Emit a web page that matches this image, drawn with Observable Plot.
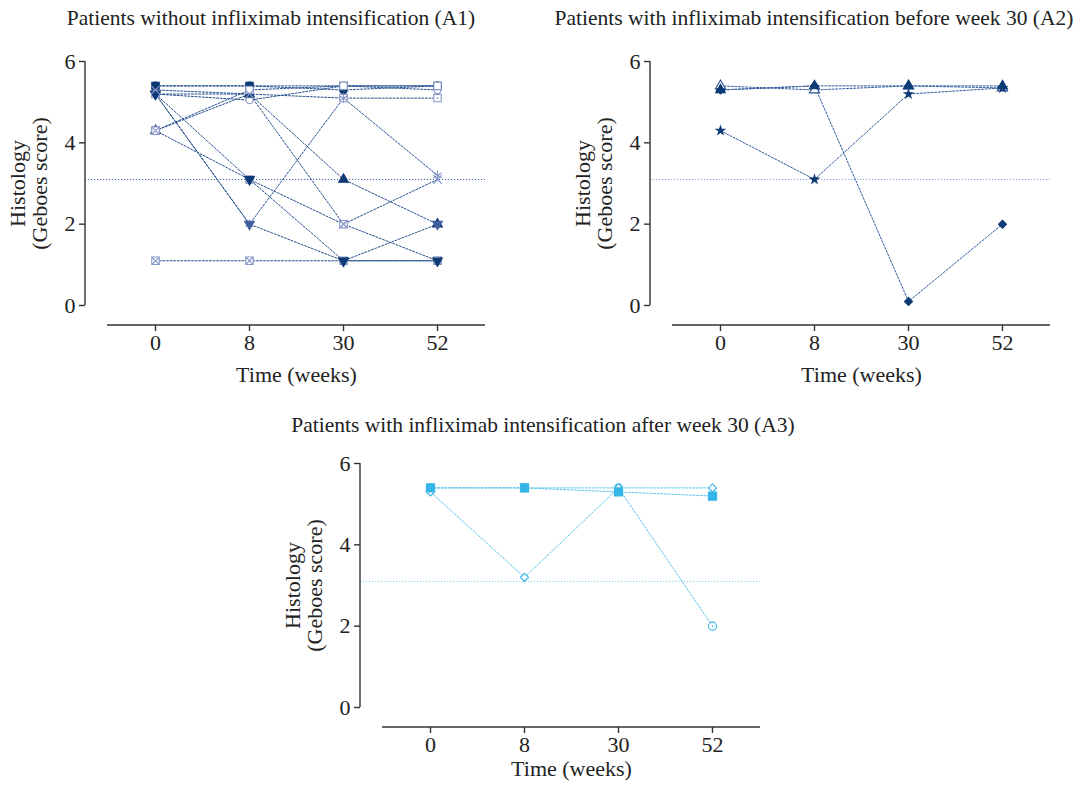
<!DOCTYPE html>
<html><head><meta charset="utf-8">
<script src="https://cdn.jsdelivr.net/npm/d3@7"></script>
<script src="https://cdn.jsdelivr.net/npm/@observablehq/plot@0.6"></script>
<style>
body{margin:0;background:#fff;font-family:"Liberation Serif",serif;color:#222}
#root{position:relative;width:1091px;height:789px;overflow:hidden;background:#fff}
.title{position:absolute;font-size:21.5px;line-height:24px;white-space:nowrap;transform:translateX(-50%);color:#222}
.panel{position:absolute}
</style></head><body><div id="root"></div>
<script>
// ---- data ----
const weeks = ["0", "8", "30", "52"];
const yTicks = [0, 2, 4, 6];
const threshold = 3.1;
const titleA1 = "Patients without infliximab intensification (A1)";
const titleA2 = "Patients with infliximab intensification before week 30 (A2)";
const titleA3 = "Patients with infliximab intensification after week 30 (A3)";
const yLabel = "Histology\n(Geboes score)";
const xLabel = "Time (weeks)";

// A1 patients (values at weeks 0, 8, 30, 52)
const a1_p1 = [5.4, 5.4, 5.3, 5.4];
const a1_p2 = [5.4, 5.4, 5.4, 5.4];
const a1_p3 = [5.2, 5.05, 5.4, 5.3];
const a1_p4 = [5.2, 5.2, 5.1, 5.1];
const a1_p5 = [4.3, 5.2, 3.1, 2.0];
const a1_p6 = [4.3, 5.3, 5.4, 5.4];
const a1_p7 = [1.1, 1.1, 1.1, 1.1];
const a1_p8 = [5.2, 2.0, 5.1, 3.2];
const a1_p9 = [5.2, 2.0, 1.1, 2.0];
const a1_p10 = [4.3, 3.1, 2.0, 1.1];
const a1_p11 = [5.2, 3.1, 1.1, 1.1];
const a1_p12 = [5.3, 5.2, 2.0, 3.1];

// A2 patients
const a2_p1 = [5.3, 5.4, 0.1, 2.0];
const a2_p2 = [5.4, 5.3, 5.4, 5.35];
const a2_p3 = [4.3, 3.1, 5.2, 5.35];
const a2_p4 = [5.3, 5.4, 5.4, 5.4];

// A3 patients
const a3_p1 = [5.4, 5.4, 5.4, 2.0];
const a3_p2 = [5.3, 3.2, 5.4, 5.4];
const a3_p3 = [5.4, 5.4, 5.3, 5.2];

// ---- styles ----
const dark = "#0b3a75", light = "#8797c8", mid = "#40609e";
const sky = "#36b5e8";
const filled = (symbol, c, extra = {}) => [{symbol, fill: c, stroke: c, ...extra}];
const open = (symbol, c, extra = {}) => [{symbol, fill: "white", stroke: c, ...extra}];
const crossedSquare = c => [{symbol: "square", fill: "white", stroke: c}, {symbol: "times", stroke: c, r: 3.3}];
const dottedSquare = c => [{symbol: "square", fill: "white", stroke: c}, {symbol: "circle", fill: c, stroke: "none", r: 0.9}];

const a1Series = [a1_p1, a1_p2, a1_p3, a1_p4, a1_p5, a1_p6, a1_p7, a1_p8, a1_p9, a1_p10, a1_p11, a1_p12];
const a1Styles = [
  filled("circle", dark, {r: 3.8}), filled("square", dark), open("circle", light, {r: 3.6}), dottedSquare(light),
  filled("triangle", dark, {r: 3.6}), open("square", light), crossedSquare(light), [{symbol: "asterisk", stroke: light, r: 4.5}],
  filled("triangle", mid, {rotate: 180, r: 3.6}), crossedSquare(light), filled("triangle", dark, {rotate: 180, r: 3.6}),
  [{symbol: "times", stroke: light, r: 4}]
];
const a2Series = [a2_p1, a2_p2, a2_p3, a2_p4];
const a2Styles = [filled("diamond2", dark, {r: 3.6}), open("triangle", "#2a4f8f", {r: 3.8}), filled("star", dark, {r: 2.6}), filled("triangle", dark, {r: 3.6})];
const a3Series = [a3_p1, a3_p2, a3_p3];
const a3Styles = [
  [{symbol: "circle", fill: "white", stroke: sky, r: 4}, {symbol: "circle", fill: sky, stroke: "none", r: 0.8}],
  open("diamond2", sky, {r: 3.6}),
  filled("square", sky, {r: 4.6})
];

// ---- layout ----
const W = 500, H = 360, ML = 85, MR = 15, MT = 21, MB = 75, XL = 107, FS = 22;

function makePanel(series, styles, lineColor, refColor, xLabelDy) {
  const rows = series.flatMap((vals, i) => vals.map((v, j) => ({id: i, week: weeks[j], value: v})));
  const marks = [
    Plot.ruleY([threshold], {stroke: refColor, strokeWidth: 1, strokeDasharray: "1.2,1.8"}),
    Plot.line(rows, {x: "week", y: "value", z: "id", stroke: lineColor, strokeWidth: 1, strokeDasharray: "2,1.6"})
  ];
  styles.forEach((layers, i) => {
    const pts = rows.filter(d => d.id === i);
    layers.forEach(l => marks.push(Plot.dot(pts, {
      x: "week", y: "value", symbol: l.symbol, r: l.r ?? 4.2,
      fill: l.fill ?? "none", stroke: l.stroke ?? "none", strokeWidth: 1.1, rotate: l.rotate ?? 0
    })));
  });
  marks.push(
    Plot.axisY({ticks: yTicks, tickFormat: d => String(d), tickSize: 6, tickPadding: 4, stroke: "#333", strokeWidth: 1.4, label: null, fontSize: FS}),
    Plot.axisX({tickSize: 6, tickPadding: 3, stroke: "#333", strokeWidth: 1.4, label: null, fontSize: FS}),
    Plot.text([xLabel], {frameAnchor: "bottom", textAnchor: "middle", dx: 11, dy: xLabelDy, fontSize: FS, fill: "#222"}),
    Plot.text([yLabel], {frameAnchor: "left", textAnchor: "middle", lineAnchor: "middle", rotate: -90, dx: -57, dy: -10, fontSize: FS, lineHeight: 1.0, fill: "#222"})
  );
  const plot = Plot.plot({
    width: W, height: H, marginLeft: ML, marginRight: MR, marginTop: MT, marginBottom: MB,
    style: {fontFamily: "Liberation Serif", fontSize: FS + "px", color: "#222", background: "transparent", overflow: "visible"},
    x: {type: "point", domain: weeks, range: [XL, W - MR], padding: 0.5},
    y: {domain: [0, 6], range: [H - MB - 20, MT]},
    marks
  });
  const svg = d3.select(plot);
  const y = plot.scale("y"), x = plot.scale("x");
  const g = svg.append("g").attr("stroke", "#333").attr("stroke-width", 1.4);
  g.append("line").attr("x1", ML).attr("x2", ML).attr("y1", y.apply(0)).attr("y2", y.apply(6));
  g.append("line").attr("x1", x.range[0]).attr("x2", x.range[1]).attr("y1", H - MB).attr("y2", H - MB);
  return plot;
}

const root = document.getElementById("root");
function place(el, left, top) {
  const d = document.createElement("div");
  d.className = "panel"; d.style.left = left + "px"; d.style.top = top + "px";
  d.appendChild(el); root.appendChild(d);
}
function title(text, cx, top) {
  const d = document.createElement("div");
  d.className = "title"; d.textContent = text; d.style.left = cx + "px"; d.style.top = top + "px";
  root.appendChild(d);
}
place(makePanel(a1Series, a1Styles, "#24508f", "#3a5f9e", 56), 0, 40);
place(makePanel(a2Series, a2Styles, "#2f5c9e", "#7fa3d4", 56), 565, 40);
place(makePanel(a3Series, a3Styles, "#5cc4ef", "#7fd0f0", 48), 275, 442);
title(titleA1, 271, 6);
title(titleA2, 814, 6);
title(titleA3, 543, 413);
</script></body></html>
